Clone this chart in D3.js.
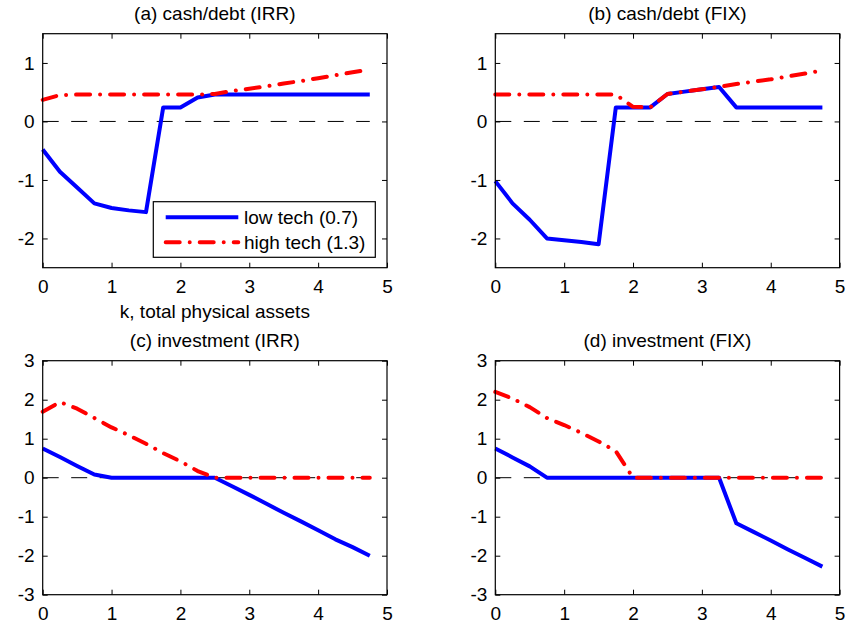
<!DOCTYPE html>
<html>
<head>
<meta charset="utf-8">
<script src="https://cdn.jsdelivr.net/npm/d3@7"></script>
<style>
  body { margin: 0; background: #fff; }
  text { font-family: "Liberation Sans", Arial, sans-serif; fill: #000; }
</style>
</head>
<body>
<div id="chart"></div>
<script>
const width = 847;
const height = 626;

// k grid shared by all panels
const kGrid = [0, 0.25, 0.5, 0.75, 1, 1.25, 1.5, 1.75, 2, 2.25, 2.5, 2.75, 3, 3.25, 3.5, 3.75, 4, 4.25, 4.5, 4.75];

const aLow  = [-0.48, -0.86, -1.13, -1.40, -1.48, -1.52, -1.55, 0.24, 0.24, 0.41, 0.46, 0.46, 0.46, 0.46, 0.46, 0.46, 0.46, 0.46, 0.46, 0.46];
const aHigh = [0.37, 0.45, 0.46, 0.46, 0.46, 0.46, 0.46, 0.46, 0.46, 0.46, 0.47, 0.52, 0.56, 0.60, 0.65, 0.69, 0.74, 0.79, 0.84, 0.89];
const bLow  = [-1.02, -1.40, -1.68, -2.00, -2.03, -2.06, -2.10, 0.24, 0.24, 0.24, 0.47, 0.51, 0.55, 0.59, 0.24, 0.24, 0.24, 0.24, 0.24, 0.24];
const bHigh = [0.46, 0.46, 0.46, 0.46, 0.46, 0.46, 0.46, 0.46, 0.25, 0.24, 0.47, 0.51, 0.55, 0.59, 0.64, 0.68, 0.72, 0.77, 0.82, 0.87];
const cLow  = [0.75, 0.53, 0.30, 0.08, 0, 0, 0, 0, 0, 0, 0, -0.22, -0.44, -0.67, -0.90, -1.12, -1.35, -1.58, -1.78, -2.00];
const cHigh = [1.69, 1.94, 1.77, 1.53, 1.29, 1.09, 0.87, 0.63, 0.42, 0.17, 0, 0, 0, 0, 0, 0, 0, 0, 0, 0];
const dLow  = [0.75, 0.52, 0.29, 0, 0, 0, 0, 0, 0, 0, 0, 0, 0, 0, -1.17, -1.39, -1.61, -1.84, -2.06, -2.28];
const dHigh = [2.20, 2.03, 1.81, 1.53, 1.35, 1.15, 0.93, 0.68, 0, 0, 0, 0, 0, 0, 0, 0, 0, 0, 0, 0];

const xTicks = [0, 1, 2, 3, 4, 5];
const cashTicks = [-2, -1, 0, 1];
const invTicks = [-3, -2, -1, 0, 1, 2, 3];
const legendLabels = ["low tech (0.7)", "high tech (1.3)"];

const panels = [
  { title: "(a) cash/debt (IRR)", low: aLow, high: aHigh, yDomain: [-2.5, 1.5], yTicks: cashTicks, left: 42.7, top: 33.7, xlabel: true, legend: true },
  { title: "(b) cash/debt (FIX)", low: bLow, high: bHigh, yDomain: [-2.5, 1.5], yTicks: cashTicks, left: 495.3, top: 33.7 },
  { title: "(c) investment (IRR)", low: cLow, high: cHigh, yDomain: [-3, 3], yTicks: invTicks, left: 42.7, top: 360.7 },
  { title: "(d) investment (FIX)", low: dLow, high: dHigh, yDomain: [-3, 3], yTicks: invTicks, left: 495.3, top: 360.7 }
];
const pw = 344.3;
const ph = 234;

const fontSize = 19;
const blue = "#0000ff";
const red = "#ff0000";
const dashDot = "14,10,0.01,10";
const fmt = d => d < 0 ? "-" + Math.abs(d) : String(d);

const svg = d3.select("#chart")
  .append("svg")
  .attr("width", width)
  .attr("height", height);

panels.forEach(p => {
  const g = svg.append("g").attr("transform", `translate(${p.left},${p.top})`);

  const x = d3.scaleLinear().domain([0, 5]).range([0, pw]);
  const y = d3.scaleLinear().domain(p.yDomain).range([ph, 0]);

  const line = d3.line()
    .x((d, i) => x(kGrid[i]))
    .y(d => y(d));

  // dashed zero line
  g.append("line")
    .attr("x1", x(0)).attr("x2", x(kGrid[kGrid.length - 1]))
    .attr("y1", y(0)).attr("y2", y(0))
    .attr("stroke", "#000")
    .attr("stroke-width", 1)
    .attr("stroke-dasharray", "16,12.5");

  g.append("path")
    .datum(p.low)
    .attr("d", line)
    .attr("fill", "none")
    .attr("stroke", blue)
    .attr("stroke-width", 4)
    .attr("stroke-linejoin", "round");

  g.append("path")
    .datum(p.high)
    .attr("d", line)
    .attr("fill", "none")
    .attr("stroke", red)
    .attr("stroke-width", 4)
    .attr("stroke-linejoin", "round")
    .attr("stroke-linecap", "round")
    .attr("stroke-dasharray", dashDot);

  // axes, ticks pointing inward on all four sides
  const bottom = g.append("g")
    .attr("transform", `translate(0,${ph})`)
    .call(d3.axisBottom(x).tickValues(xTicks).tickSizeInner(-5).tickSizeOuter(0).tickPadding(12).tickFormat(fmt));
  const leftAx = g.append("g")
    .call(d3.axisLeft(y).tickValues(p.yTicks).tickSizeInner(-5).tickSizeOuter(0).tickPadding(8).tickFormat(fmt));
  g.append("g")
    .call(d3.axisTop(x).tickValues(xTicks).tickSizeInner(-5).tickSizeOuter(0).tickFormat(""));
  g.append("g")
    .attr("transform", `translate(${pw},0)`)
    .call(d3.axisRight(y).tickValues(p.yTicks).tickSizeInner(-5).tickSizeOuter(0).tickFormat(""));

  g.selectAll(".domain").remove();
  g.selectAll(".tick line").attr("stroke", "#000");
  [bottom, leftAx].forEach(a => a.selectAll("text")
    .style("font-family", '"Liberation Sans", Arial, sans-serif')
    .style("font-size", fontSize + "px")
    .attr("fill", "#000"));

  g.append("rect")
    .attr("width", pw).attr("height", ph)
    .attr("fill", "none")
    .attr("stroke", "#000")
    .attr("stroke-width", 1.2);

  g.append("text")
    .attr("x", pw / 2)
    .attr("y", -13.5)
    .attr("text-anchor", "middle")
    .style("font-size", fontSize + "px")
    .text(p.title);

  if (p.xlabel) {
    g.append("text")
      .attr("x", pw / 2)
      .attr("y", ph + 50.5)
      .attr("text-anchor", "middle")
      .style("font-size", fontSize + "px")
      .text("k, total physical assets");
  }

  if (p.legend) {
    const lg = g.append("g").attr("transform", `translate(${153.3 - p.left},${201.7 - p.top})`);
    lg.append("rect")
      .attr("width", 222).attr("height", 55.6)
      .attr("fill", "#fff")
      .attr("stroke", "#000")
      .attr("stroke-width", 1.2);
    legendLabels.forEach((lab, i) => {
      const ly = 15.6 + i * 25;
      lg.append("line")
        .attr("x1", 12.4).attr("x2", 85)
        .attr("y1", ly).attr("y2", ly)
        .attr("stroke", i ? red : blue)
        .attr("stroke-width", 4)
        .attr("stroke-linecap", i ? "round" : "butt")
        .attr("stroke-dasharray", i ? dashDot : null);
      lg.append("text")
        .attr("x", 90.7)
        .attr("y", ly + 6.5)
        .style("font-size", fontSize + "px")
        .text(lab);
    });
  }
});
</script>
</body>
</html>
